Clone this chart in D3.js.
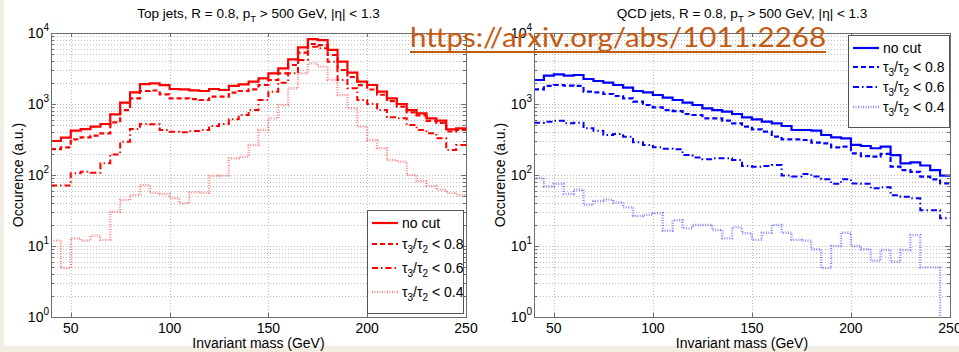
<!DOCTYPE html>
<html>
<head>
<meta charset="utf-8">
<script src="https://cdn.jsdelivr.net/npm/d3@7"></script>
<style>
body { margin: 0; background: #fff; }
svg { font-family: "Liberation Sans", Arial, sans-serif; }
.grid line { stroke: #bdbdbd; stroke-dasharray: 1,2; shape-rendering: crispEdges; }
.tick-mark { stroke: #6e6e6e; shape-rendering: crispEdges; }
.box { fill: none; stroke: #6e6e6e; shape-rendering: crispEdges; }
</style>
</head>
<body>
<svg id="chart" width="959" height="352"></svg>
<script>

// bin left edges (GeV), 5 GeV wide, last bin ends at 250
var bins = [40,45,50,55,60,65,70,75,80,85,90,95,100,105,110,115,120,125,130,135,140,
            145,150,155,160,165,170,175,180,185,190,195,200,205,210,215,220,225,230,235,240,245];

// top jets
var topNoCut = [301,336,421,444,480,523,715,1045,1460,1910,1955,1850,1627,1610,1560,1525,1627,1575,1795,1893,2066,
                2300,2705,3180,4255,6280,8220,7960,5770,3945,2763,2066,1853,1492,1202,1000,822,739,628,582,440,454];
var top08 = [232,245,318,339,358,386,552,822,1202,1524,1550,1368,1202,1202,1175,1138,1268,1268,1445,1524,1610,
             1852,2178,2705,3540,5290,7000,6770,4900,3010,2400,1850,1600,1350,1100,920,760,690,580,540,410,430];
var top06 = [71,71,106,111,108,146,195,295,444,523,518,430,408,399,418,430,490,523,608,700,822,
             1138,1492,2000,2705,4170,6420,6080,3945,2178,1665,1138,1000,822,649,628,506,430,386,328,225,265];
var top04 = [11.9,4.9,12.8,11.9,14,12.2,30.4,44.5,52,72,56,54,47,40,57,56,97,98,172,180,265,
             430,628,968,1665,2705,3740,3360,2180,1340,868,480,311,238,163,154,100,82,70,62,56,52];

// QCD jets
var qcdNoCut = [2178,2507,2617,2507,2560,2250,2109,2000,1853,1700,1524,1460,1340,1228,1138,1045,968,868,822,780,723,
                649,608,564,535,490,430,430,421,366,339,328,265,256,238,251,191,146,151,136,117,98];
var qcd08 = [1610,1795,1853,1812,1795,1492,1460,1383,1297,1202,1078,968,897,822,796,723,700,628,628,582,535,
             480,440,408,347,318,318,311,285,279,245,251,202,185,181,198,131,117,111,95,87,76];
var qcd06 = [546,564,582,535,546,454,421,366,378,347,289,265,245,235,230,191,177,166,172,172,163,
             134,131,134,138,98,95,103,95,87,75,87,76,75,65,67,52,49.5,47,32,32,24.5];
var qcd04 = [90,69,75,54,62,38,43,45,41,35,26.5,27.4,28.9,16.4,23,17.7,19.8,19.8,16.8,12.8,18.3,
             15.1,12.2,15.4,19.8,15.4,12.2,11.9,9,4.9,10,15.4,10,9,6.2,8.8,6,8.8,14.3,5,5,0.5];

var xTicks = [50,100,150,200,250];
var yTicks = [1,10,100,1000,10000];
var cutLabels = ["0.8","0.6","0.4"];

var svg = d3.select("#chart");

// faint page edges of the slide
svg.append("rect").attr("x",0).attr("y",346).attr("width",959).attr("height",6).attr("fill","#f3eee4");
svg.append("rect").attr("x",0).attr("y",0).attr("width",4).attr("height",352).attr("fill","#f3eee4");

var styles = [
  {dash: null, w: 2.2, op: 1},
  {dash: "5,3", w: 2.2, op: 1},
  {dash: "6,3,1.5,3", w: 2, op: 1},
  {dash: "1,1.5", w: 2.4, op: 0.45}
];

var panels = [
  {x0: 51, x1: 466, color: "#ff0000", name: "Top jets", series: [topNoCut, top08, top06, top04],
   ylabX: 23, legend: {x: 367, y: 210, w: 96, h: 103, rows: [223, 244, 268, 292]}},
  {x0: 534, x1: 950, color: "#0000ff", name: "QCD jets", series: [qcdNoCut, qcd08, qcd06, qcd04],
   ylabX: 505, legend: {x: 848, y: 35, w: 101, h: 92, rows: [48, 67, 87, 107]}}
];

var plotTop = 33, plotBottom = 317;

panels.forEach(function(p, pi) {
  var x = d3.scaleLinear().domain([40, 250]).range([p.x0, p.x1]);
  var y = d3.scaleLog().domain([1, 10000]).range([plotBottom, plotTop]);
  var g = svg.append("g");

  // grid
  var minor = [];
  [1,10,100,1000].forEach(function(d) {
    for (var m = 1; m <= 9; m++) minor.push(d * m);
  });
  var grid = g.append("g").attr("class", "grid");
  grid.selectAll(".gy").data(minor.filter(function(v) { return v > 1; })).enter().append("line")
    .attr("x1", p.x0).attr("x2", p.x1)
    .attr("y1", function(d) { return Math.round(y(d)) + 0.5; })
    .attr("y2", function(d) { return Math.round(y(d)) + 0.5; });
  grid.selectAll(".gx").data(xTicks.slice(0, 4)).enter().append("line")
    .attr("x1", function(d) { return Math.round(x(d)) + 0.5; })
    .attr("x2", function(d) { return Math.round(x(d)) + 0.5; })
    .attr("y1", plotTop).attr("y2", plotBottom);

  // clip
  var cid = "clip" + pi;
  svg.append("clipPath").attr("id", cid).append("rect")
    .attr("x", p.x0).attr("y", plotTop).attr("width", p.x1 - p.x0).attr("height", plotBottom - plotTop);

  var line = d3.line()
    .x(function(d) { return x(d[0]); })
    .y(function(d) { return y(d[1]); })
    .curve(d3.curveStepAfter);

  p.series.forEach(function(vals, si) {
    var pts = bins.map(function(b, i) { return [b, vals[i]]; });
    pts.push([250, vals[vals.length - 1]]);
    var st = styles[si];
    g.append("path")
      .attr("clip-path", "url(#" + cid + ")")
      .attr("d", line(pts))
      .attr("fill", "none")
      .attr("stroke", p.color)
      .attr("stroke-width", st.w)
      .attr("stroke-opacity", st.op)
      .attr("stroke-dasharray", st.dash);
  });

  // box and ticks
  g.append("rect").attr("class", "box")
    .attr("x", p.x0 + 0.5).attr("y", plotTop + 0.5)
    .attr("width", p.x1 - p.x0).attr("height", plotBottom - plotTop);

  xTicks.forEach(function(t) {
    var xx = Math.round(x(t)) + 0.5;
    g.append("line").attr("class", "tick-mark").attr("x1", xx).attr("x2", xx).attr("y1", plotBottom).attr("y2", plotBottom - 4);
    g.append("line").attr("class", "tick-mark").attr("x1", xx).attr("x2", xx).attr("y1", plotTop).attr("y2", plotTop + 4);
    g.append("text").attr("x", x(t)).attr("y", 333).attr("text-anchor", "middle")
      .attr("font-size", 14).text(t);
  });
  minor.concat([10000]).forEach(function(v) {
    var yy = Math.round(y(v)) + 0.5;
    var len = yTicks.indexOf(v) >= 0 ? 5 : 3;
    g.append("line").attr("class", "tick-mark").attr("x1", p.x0).attr("x2", p.x0 + len).attr("y1", yy).attr("y2", yy);
    g.append("line").attr("class", "tick-mark").attr("x1", p.x1).attr("x2", p.x1 - len).attr("y1", yy).attr("y2", yy);
  });
  yTicks.forEach(function(v, i) {
    var t = g.append("text").attr("x", p.x0 - 2).attr("y", y(v) + 5)
      .attr("text-anchor", "end").attr("font-size", 14);
    t.append("tspan").text("10");
    t.append("tspan").attr("dy", -7).attr("font-size", 10).text(i);
  });

  // labels
  g.append("text").attr("x", (p.x0 + p.x1) / 2).attr("y", 348).attr("text-anchor", "middle")
    .attr("font-size", 14).text("Invariant mass (GeV)");
  g.append("text").attr("transform", "translate(" + p.ylabX + "," + ((plotTop + plotBottom) / 2) + ") rotate(-90)")
    .attr("text-anchor", "middle").attr("font-size", 14).text("Occurence (a.u.)");

  var title = g.append("text").attr("x", (p.x0 + p.x1) / 2).attr("y", 18)
    .attr("text-anchor", "middle").attr("font-size", 13.5);
  title.append("tspan").text(p.name + ", R = 0.8, p");
  title.append("tspan").attr("dy", 4).attr("font-size", 9.5).text("T");
  title.append("tspan").attr("dy", -4).text(" > 500 GeV, |η| < 1.3");

  // legend
  var L = p.legend;
  var lg = g.append("g");
  lg.append("rect").attr("x", L.x + 0.5).attr("y", L.y + 0.5).attr("width", L.w).attr("height", L.h)
    .attr("fill", "#fff").attr("stroke", "#555");
  L.rows.forEach(function(ry, si) {
    var st = styles[si];
    lg.append("line").attr("x1", L.x + 5).attr("x2", L.x + 31).attr("y1", ry).attr("y2", ry)
      .attr("stroke", p.color).attr("stroke-width", st.w).attr("stroke-opacity", st.op)
      .attr("stroke-dasharray", st.dash);
    var t = lg.append("text").attr("x", L.x + 35).attr("y", ry + 5).attr("font-size", 14);
    if (si === 0) {
      t.text("no cut");
    } else {
      t.append("tspan").text("τ");
      t.append("tspan").attr("dy", 4).attr("font-size", 10).text("3");
      t.append("tspan").attr("dy", -4).text("/τ");
      t.append("tspan").attr("dy", 4).attr("font-size", 10).text("2");
      t.append("tspan").attr("dy", -4).text(" < " + cutLabels[si - 1]);
    }
  });
});

// source link pasted over the figure
svg.append("text").attr("x", 410).attr("y", 47)
  .attr("font-family", "Lato, 'Open Sans', sans-serif").attr("font-size", 27)
  .attr("fill", "#c55a11").attr("textLength", 416).attr("lengthAdjust", "spacingAndGlyphs")
  .text("https://arxiv.org/abs/1011.2268");
svg.append("line").attr("x1", 410).attr("x2", 826).attr("y1", 52).attr("y2", 52)
  .attr("stroke", "#c55a11").attr("stroke-width", 2);

</script>
</body>
</html>
